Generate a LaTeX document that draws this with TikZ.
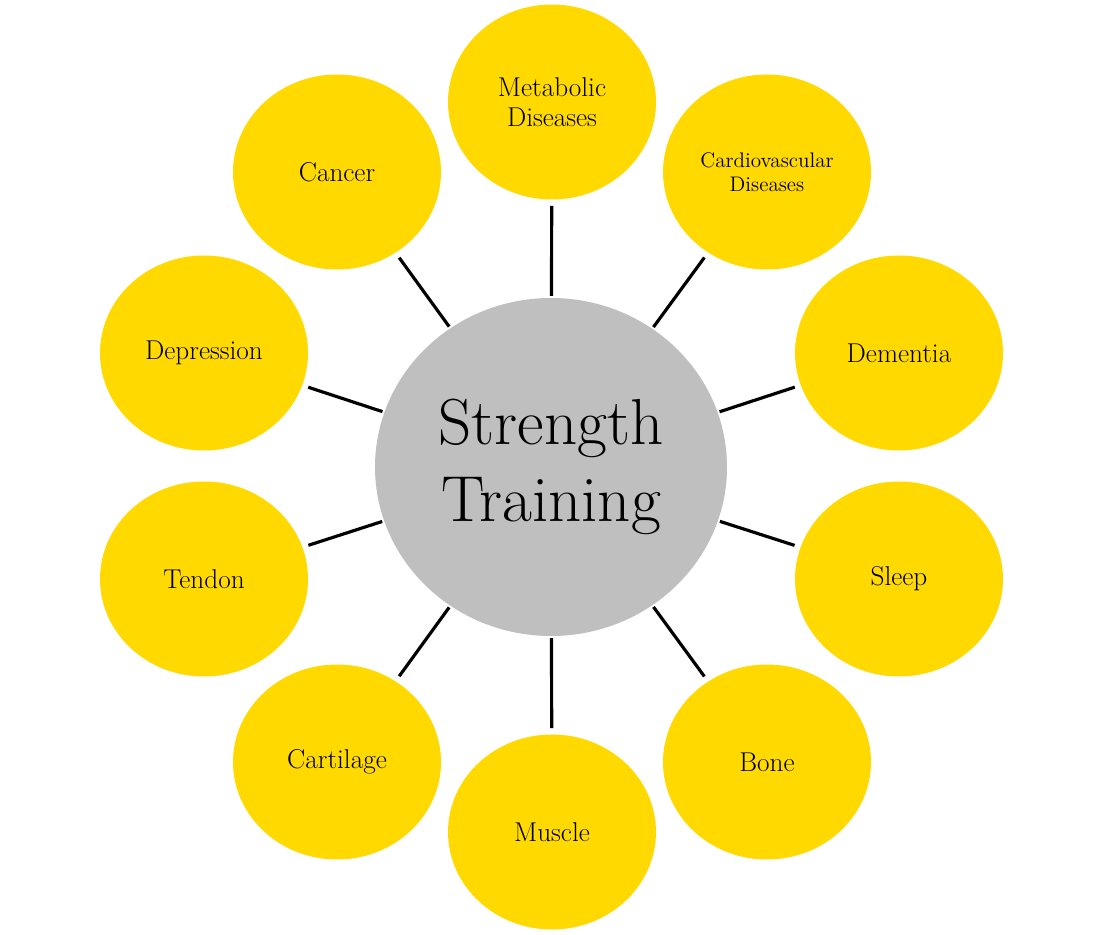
\documentclass[tikz,border=0pt]{standalone}
\usetikzlibrary{shapes.geometric}
\begin{document}
\begin{tikzpicture}[x=0.02cm,y=-0.02cm,
  hub/.style={ellipse,fill={rgb,255:red,191;green,191;blue,191},minimum width=352*0.02cm,minimum height=338*0.02cm,inner sep=0pt,align=center,font=\fontsize{37}{44}\selectfont},
  leaf/.style={ellipse,fill={rgb,255:red,255;green,217;blue,0},minimum width=208*0.02cm,minimum height=195*0.02cm,inner sep=0pt,align=center,font=\fontsize{15.5}{17}\selectfont},
  link/.style={line width=1.8pt,shorten >=6*0.02cm,shorten <=1pt}]
\useasboundingbox (0,0) rectangle (1103,935);
\node[hub] (c) at (551,467) {Strength\\Training};
\node[leaf] (a) at (552,102) {Metabolic\\Diseases};
\node[leaf,font=\fontsize{12}{14}\selectfont] (b) at (767,172) {Cardiovascular\\Diseases};
\node[leaf] (d) at (899,353) {Dementia};
\node[leaf] (e) at (899,579) {Sleep};
\node[leaf] (f) at (767,762) {Bone};
\node[leaf] (g) at (552,832) {Muscle};
\node[leaf] (h) at (337,762) {Cartilage};
\node[leaf] (i) at (204,579) {Tendon};
\node[leaf] (j) at (204,353) {Depression};
\node[leaf] (k) at (337,172) {Cancer};
\foreach \n in {a,b,d,e,f,g,h,i,j,k} \draw[link] (c) -- (\n);
\end{tikzpicture}
\end{document}
